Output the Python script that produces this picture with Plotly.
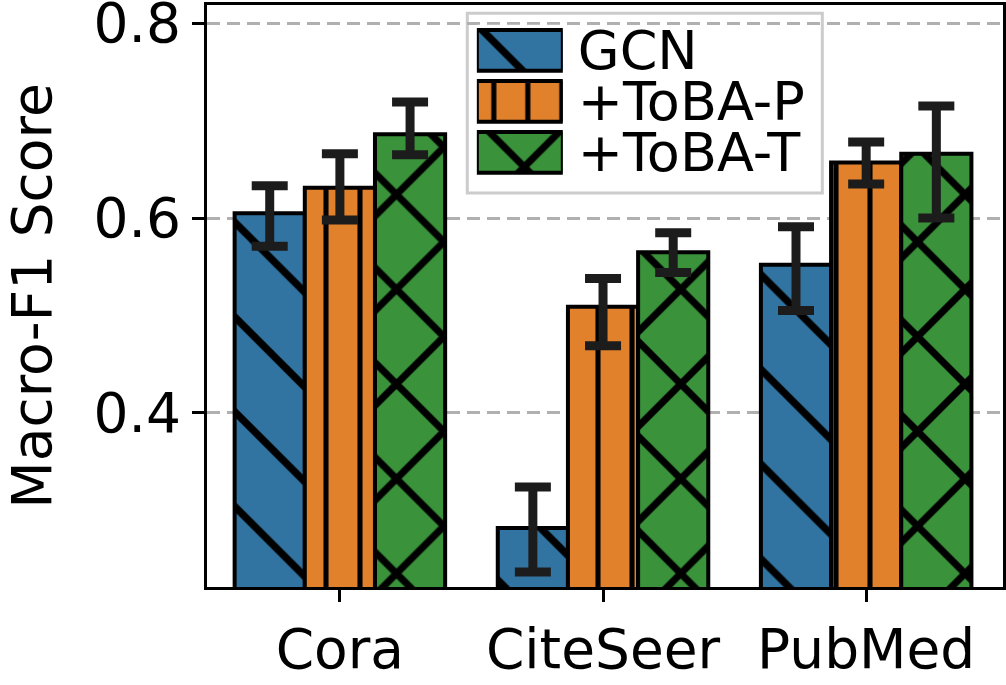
import plotly.graph_objects as go

# datos
datasets = ['Cora', 'CiteSeer', 'PubMed']
metodos = ['GCN', '+ToBA-P', '+ToBA-T']

gcn = [0.605, 0.282, 0.552]
gcn_lo = [0.571, 0.237, 0.505]
gcn_hi = [0.633, 0.324, 0.591]

toba_p = [0.631, 0.509, 0.657]
toba_p_lo = [0.598, 0.469, 0.635]
toba_p_hi = [0.666, 0.538, 0.678]

toba_t = [0.686, 0.565, 0.666]
toba_t_lo = [0.665, 0.544, 0.600]
toba_t_hi = [0.719, 0.585, 0.715]

y_ticks = [0.4, 0.6, 0.8]
y_tick_labels = ['0.4', '0.6', '0.8']

colores = ['#3274a1', '#e1812c', '#3a923a']
patrones = [('\\', 67, 0.11), ('|', 34, 0.15), ('x', 67, 0.2)]

series = [
    (gcn, gcn_lo, gcn_hi),
    (toba_p, toba_p_lo, toba_p_hi),
    (toba_t, toba_t_lo, toba_t_hi),
]


def estilo(color, forma, tam, sol):
    return dict(color=color, line=dict(color='black', width=4),
                pattern=dict(shape=forma, size=tam, solidity=sol,
                             fgcolor='black', bgcolor=color, fillmode='replace'))


fig = go.Figure()
for nombre, (vals, lo, hi), color, (forma, tam, sol) in zip(metodos, series, colores, patrones):
    fig.add_trace(go.Bar(
        x=datasets, y=vals, name=nombre, showlegend=False,
        marker=estilo(color, forma, tam, sol),
        error_y=dict(type='data', symmetric=False,
                     array=[h - v for h, v in zip(hi, vals)],
                     arrayminus=[v - l for v, l in zip(vals, lo)],
                     color='#1c1c1c', thickness=9, width=18),
    ))

# leyenda hecha a mano para tener parches grandes con trama
for nombre, color, (forma, tam, sol) in zip(metodos, colores, patrones):
    fig.add_trace(go.Bar(
        x=[1], y=[nombre], orientation='h', xaxis='x2', yaxis='y2',
        offsetgroup='leyenda', showlegend=False, hoverinfo='skip',
        marker=estilo(color, forma, tam, sol),
    ))

fig.add_shape(type='rect', xref='paper', yref='paper',
              x0=0.327, x1=0.773, y0=0.677, y1=0.986,
              fillcolor='rgba(255,255,255,0.8)', line=dict(color='#cccccc', width=3),
              layer='between')

fig.update_layout(
    width=1006, height=685,
    margin=dict(l=207, r=3, t=5, b=98),
    plot_bgcolor='white', paper_bgcolor='white',
    font=dict(family='DejaVu Sans', size=55, color='black'),
    barmode='group', bargap=0.2, bargroupgap=0,
    showlegend=False,
    xaxis=dict(
        showline=True, linecolor='black', linewidth=3, mirror=True,
        ticks='outside', ticklen=12, tickwidth=3, tickcolor='black',
        showgrid=False, range=[-0.505, 2.52], automargin=False,
        ticklabeloverflow='allow',
    ),
    yaxis=dict(
        title=dict(text='Macro-F1 Score', standoff=37, font=dict(size=55)),
        range=[0.2215, 0.8185],
        tickvals=y_ticks, ticktext=y_tick_labels,
        showline=True, linecolor='black', linewidth=3, mirror=True,
        ticks='outside', ticklen=12, tickwidth=3, tickcolor='black',
        showgrid=True, gridcolor='#b0b0b0', gridwidth=3, griddash='13px,7px',
        zeroline=False, automargin=False, ticklabeloverflow='allow',
    ),
    xaxis2=dict(domain=[0.339, 0.447], range=[0, 1], anchor='y2',
                visible=False, fixedrange=True, automargin=False),
    yaxis2=dict(domain=[0.703, 0.966], anchor='x2', side='right',
                type='category', categoryorder='array', categoryarray=metodos,
                tickmode='array', tickvals=metodos, ticktext=metodos,
                autorange='reversed', showline=False, showgrid=False, ticks='',
                ticklabelstandoff=14, tickfont=dict(size=54), fixedrange=True,
                automargin=False, ticklabeloverflow='allow'),
)

# quitar el margen del body para que la figura quede en (0, 0)
fig.write_html('out.html', config={'displayModeBar': False},
               post_script="document.body.style.margin='0px';")
